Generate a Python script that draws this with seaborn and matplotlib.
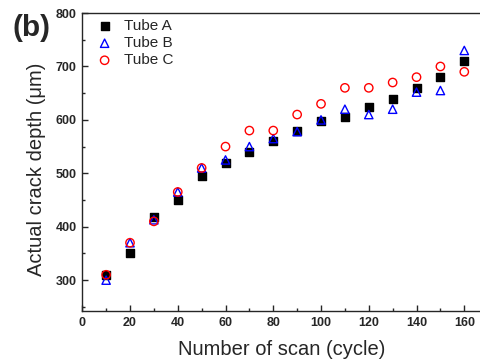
import matplotlib
matplotlib.use("Agg")
import matplotlib.pyplot as plt
import seaborn as sns
import pandas as pd
from matplotlib.ticker import MultipleLocator

cycles = [10, 20, 30, 40, 50, 60, 70, 80, 90, 100, 110, 120, 130, 140, 150, 160]
tube_a = [310, 350, 418, 450, 495, 520, 540, 560, 580, 598, 605, 625, 640, 660, 680, 710]
tube_b = [300, 370, 413, 465, 510, 525, 550, 565, 578, 600, 620, 610, 620, 652, 655, 730]
tube_c = [310, 370, 410, 465, 510, 550, 580, 580, 610, 630, 660, 660, 670, 680, 700, 690]
series_names = ["Tube A", "Tube B", "Tube C"]

df = pd.DataFrame({
    "cycle": cycles * 3,
    "depth": tube_a + tube_b + tube_c,
    "tube": [series_names[0]] * 16 + [series_names[1]] * 16 + [series_names[2]] * 16,
})

sns.set_style("ticks")
plt.rcParams["font.family"] = ["Liberation Sans", "DejaVu Sans"]

fig = plt.figure(figsize=(4.81, 3.63), dpi=100)
ax = fig.add_axes([0.171, 0.143, 0.829, 0.821])

styles = {
    "Tube A": dict(marker="s", facecolor="black", edgecolor="black"),
    "Tube B": dict(marker="^", facecolor="none", edgecolor="blue"),
    "Tube C": dict(marker="o", facecolor="none", edgecolor="red"),
}
for name in series_names:
    sub = df[df["tube"] == name]
    st = styles[name]
    sns.scatterplot(data=sub, x="cycle", y="depth", ax=ax, marker=st["marker"],
                    facecolor=st["facecolor"], edgecolor=st["edgecolor"],
                    linewidth=1.0, s=36, label=name, zorder=3)

ax.set_xlim(0, 167)
ax.set_ylim(242, 800)
ax.xaxis.set_major_locator(MultipleLocator(20))
ax.xaxis.set_minor_locator(MultipleLocator(10))
ax.yaxis.set_major_locator(MultipleLocator(100))
ax.yaxis.set_minor_locator(MultipleLocator(50))
ax.tick_params(which="both", direction="in", top=False, right=False)
ax.tick_params(which="major", length=4, width=1, pad=4)
ax.tick_params(which="minor", length=2, width=1)
for lab in ax.get_xticklabels() + ax.get_yticklabels():
    lab.set_fontweight("bold")
    lab.set_fontsize(9)
for sp in ax.spines.values():
    sp.set_linewidth(1.0)

ax.set_xlabel("Number of scan (cycle)", fontsize=14.5, labelpad=8)
ax.set_ylabel("Actual crack depth (\u03bcm)", fontsize=14.5)
ax.yaxis.set_label_coords(-0.092, 0.476)

leg = ax.legend(loc="upper left", bbox_to_anchor=(0.012, 1.0), frameon=False,
                fontsize=11, handletextpad=0.5, borderaxespad=0.2,
                labelspacing=0.2, handlelength=1.5, borderpad=0.2)

fig.text(0.026, 0.9, "(b)", fontsize=21.5, fontweight="bold")

fig.savefig("out.png", dpi=100)
